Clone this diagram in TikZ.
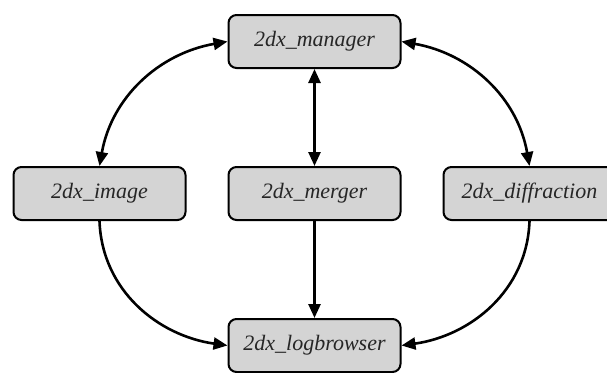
\documentclass[tikz,border=0pt]{standalone}
\usepackage{fontspec}
\setmainfont{Liberation Serif}
\usetikzlibrary{positioning, arrows.meta}

\begin{document}
\begin{tikzpicture}[
   x=1pt, y=-1pt,
   tool/.style = {draw, line width=2pt, rounded corners=8pt, fill=black!17,
                  minimum width=172pt, minimum height=53pt,
                  text=black!85, font=\fontsize{22}{25}\selectfont\itshape},
   tip/.tip = {Triangle[length=14pt, width=12pt]},
   line width=2.6pt,
   -tip]
   \useasboundingbox (0,0) rectangle (607,372);
   \node[tool]  (merger) at (314.5,193.5) {2dx\_merger};
   \node[tool, left=41pt of merger]   (image) {2dx\_image};
   \node[tool, right=41pt of merger]  (diffraction) {2dx\_diffraction};
   \node[tool, above=97pt of merger]  (manager) {2dx\_manager};
   \node[tool, below=97pt of merger]  (logbrowser) {2dx\_logbrowser};

   \draw[tip-tip] (image.north) to[out=80, in=190] (manager.west);
   \draw[tip-tip] (diffraction.north) to[out=100, in=-10] (manager.east);

   \draw[tip-tip] (manager) -- (merger);
   \draw (merger) -- (logbrowser);

   \draw (image.south) to[out=-88, in=172] (logbrowser.west);
   \draw (diffraction.south) to[out=-92, in=8] (logbrowser.east);
\end{tikzpicture}
\end{document}
